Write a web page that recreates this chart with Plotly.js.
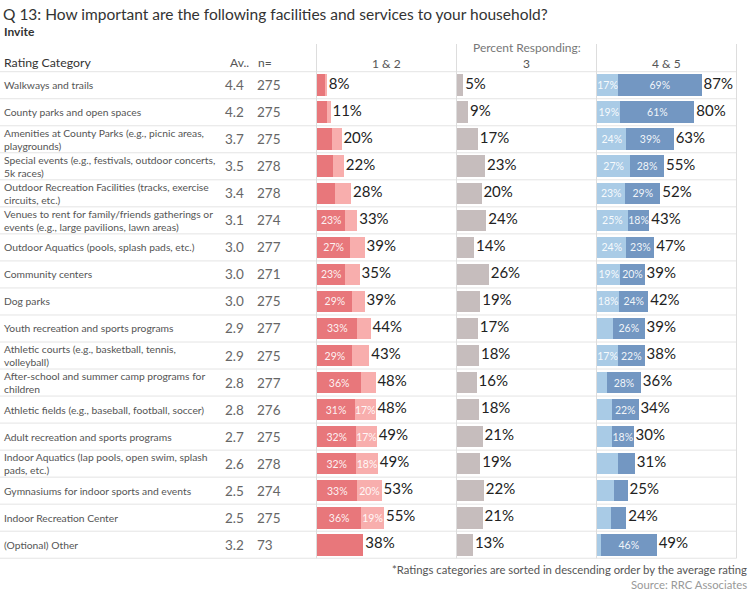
<!DOCTYPE html>
<html>
<head>
<meta charset="utf-8">
<script src="https://cdn.plot.ly/plotly-3.0.1.min.js"></script>
<style>html,body{margin:0;padding:0;background:#fff;}#chart{width:751px;height:592px;}</style>
</head>
<body>
<div id="chart"></div>
<script>
// ---------- DATA ----------
const categories = [
  "Walkways and trails",
  "County parks and open spaces",
  "Amenities at County Parks (e.g., picnic areas, playgrounds)",
  "Special events (e.g., festivals, outdoor concerts, 5k races)",
  "Outdoor Recreation Facilities (tracks, exercise circuits, etc.)",
  "Venues to rent for family/friends gatherings or events (e.g., large pavilions, lawn areas)",
  "Outdoor Aquatics (pools, splash pads, etc.)",
  "Community centers",
  "Dog parks",
  "Youth recreation and sports programs",
  "Athletic courts (e.g., basketball, tennis, volleyball)",
  "After-school and summer camp programs for children",
  "Athletic fields (e.g., baseball, football, soccer)",
  "Adult recreation and sports programs",
  "Indoor Aquatics (lap pools, open swim, splash pads, etc.)",
  "Gymnasiums for indoor sports and events",
  "Indoor Recreation Center",
  "(Optional) Other"
];
const categoryLabels = [
  "Walkways and trails",
  "County parks and open spaces",
  "Amenities at County Parks (e.g., picnic areas,<br>playgrounds)",
  "Special events (e.g., festivals, outdoor concerts,<br>5k races)",
  "Outdoor Recreation Facilities (tracks, exercise<br>circuits, etc.)",
  "Venues to rent for family/friends gatherings or<br>events (e.g., large pavilions, lawn areas)",
  "Outdoor Aquatics (pools, splash pads, etc.)",
  "Community centers",
  "Dog parks",
  "Youth recreation and sports programs",
  "Athletic courts (e.g., basketball, tennis,<br>volleyball)",
  "After-school and summer camp programs for<br>children",
  "Athletic fields (e.g., baseball, football, soccer)",
  "Adult recreation and sports programs",
  "Indoor Aquatics (lap pools, open swim, splash<br>pads, etc.)",
  "Gymnasiums for indoor sports and events",
  "Indoor Recreation Center",
  "(Optional) Other"
];
const averages = ["4.4","4.2","3.7","3.5","3.4","3.1","3.0","3.0","3.0","2.9","2.9","2.8","2.8","2.7","2.6","2.5","2.5","3.2"];
const counts   = [275,275,275,278,278,274,277,271,275,277,275,277,276,275,278,274,275,73];

// Panel "1 & 2": rating 1 (dark) and rating 2 (light) percentages
const rating1 = [6, 8, 12, 13, 15, 23, 27, 23, 29, 33, 29, 36, 31, 32, 32, 33, 36, 38];
const rating2 = [2, 3, 8, 9, 13, 10, 12, 12, 10, 11, 14, 12, 17, 17, 18, 20, 19, 0];
const total12 = [8, 11, 20, 22, 28, 33, 39, 35, 39, 44, 43, 48, 48, 49, 49, 53, 55, 38];
const show1   = [0,0,0,0,0,1,1,1,1,1,1,1,1,1,1,1,1,0];
const show2   = [0,0,0,0,0,0,0,0,0,0,0,0,1,1,1,1,1,0];

// Panel "3"
const rating3 = [5, 9, 17, 23, 20, 24, 14, 26, 19, 17, 18, 16, 18, 21, 19, 22, 21, 13];

// Panel "4 & 5": rating 4 (light) and rating 5 (dark)
const rating4 = [17, 19, 24, 27, 23, 25, 24, 19, 18, 13, 17, 8, 12, 12, 17, 14, 11, 3];
const rating5 = [69, 61, 39, 28, 29, 18, 23, 20, 24, 26, 22, 28, 22, 18, 14, 11, 13, 46];
const total45 = [87, 80, 63, 55, 52, 43, 47, 39, 42, 39, 38, 36, 34, 30, 31, 25, 24, 49];
const show4   = [1,1,1,1,1,1,1,1,1,0,1,0,0,0,0,0,0,0];
const show5   = [1,1,1,1,1,1,1,1,1,1,1,1,1,1,0,0,0,1];

// ---------- STYLE / GEOMETRY ----------
const W = 751, H = 592;
const px = v => v / W;
const py = v => 1 - v / H;
const rowTop = 71.7, rowH = 27.03, nRows = categories.length;
const gridBottom = rowTop + rowH * nRows;
const FONT = "Lato, 'Liberation Sans', sans-serif";
const FONT_NUM = "Lato, 'Open Sans', sans-serif";
const panelEdges = [316.5, 456.5, 596.5, 736.5];
const xRange = [-0.6, 114.6];

const C = {red: "#E8777B", pink: "#F8AEAD", gray: "#C6BDBD", lblue: "#A9CBE6", dblue: "#7397C2"};

function lbl(vals, show) { return vals.map((v, i) => show[i] ? v + "%" : ""); }
function pct(vals) { return vals.map(v => "\u2009" + v + "%"); }
function sum(a, b) { return a.map((v, i) => v + (b ? b[i] : 0)); }

function barTrace(xs, axis, color, text) {
  return {
    type: "bar", orientation: "h", x: xs, y: categories, xaxis: axis, yaxis: "y",
    marker: {color: color, line: {width: 0}}, width: 0.8,
    text: text || null, textposition: text ? "inside" : "none",
    insidetextanchor: "middle", textangle: 0, constraintext: "none",
    insidetextfont: {family: FONT_NUM, size: 10.5, color: "rgba(255,255,255,0.92)"},
    hoverinfo: "skip", showlegend: false, cliponaxis: false
  };
}
function totalTrace(xs, axis, labels) {
  return {
    type: "scatter", mode: "text", x: xs, y: categories, xaxis: axis, yaxis: "y",
    text: labels, textposition: "middle right",
    textfont: {family: FONT_NUM, size: 15, color: "#222"},
    hoverinfo: "skip", showlegend: false, cliponaxis: false
  };
}

const traces = [
  barTrace(rating1, "x", C.red, lbl(rating1, show1)),
  barTrace(rating2, "x", C.pink, lbl(rating2, show2)),
  totalTrace(sum(rating1, rating2), "x", pct(total12)),
  barTrace(rating3, "x2", C.gray, null),
  totalTrace(rating3, "x2", pct(rating3)),
  barTrace(rating4, "x3", C.lblue, lbl(rating4, show4)),
  barTrace(rating5, "x3", C.dblue, lbl(rating5, show5)),
  totalTrace(sum(rating4, rating5), "x3", pct(total45))
];

const hidden = {showgrid: false, zeroline: false, showticklabels: false, showline: false, ticks: "", fixedrange: true};
const layout = {
  width: W, height: H, margin: {l: 0, r: 0, t: 0, b: 0},
  paper_bgcolor: "#fff", plot_bgcolor: "rgba(0,0,0,0)",
  barmode: "stack", bargap: 0.2, showlegend: false,
  font: {family: FONT, color: "#555"},
  xaxis:  Object.assign({domain: [px(panelEdges[0]), px(panelEdges[1])], range: xRange, anchor: "y"}, hidden),
  xaxis2: Object.assign({domain: [px(panelEdges[1]), px(panelEdges[2])], range: xRange, anchor: "y"}, hidden),
  xaxis3: Object.assign({domain: [px(panelEdges[2]), px(panelEdges[3])], range: xRange, anchor: "y"}, hidden),
  yaxis: Object.assign({domain: [py(gridBottom), py(rowTop)], type: "category",
    categoryorder: "array", categoryarray: categories, range: [nRows - 0.5, -0.5]}, hidden),
  shapes: [], annotations: []
};

// row separators
for (let k = 0; k <= nRows; k++) {
  const yy = py(rowTop + rowH * k);
  layout.shapes.push({type: "line", xref: "paper", yref: "paper", x0: 0, x1: px(panelEdges[3]),
    y0: yy, y1: yy, line: {color: "#E4E4E4", width: 1}, layer: "below"});
}
// panel verticals
panelEdges.forEach(e => layout.shapes.push({type: "line", xref: "paper", yref: "paper",
  x0: px(e), x1: px(e), y0: py(44), y1: py(gridBottom), line: {color: "#DDDDDD", width: 1}, layer: "below"}));

const A = layout.annotations;
function txt(text, x, y, size, color, anchor, extra) {
  A.push(Object.assign({text: text, xref: "paper", yref: "paper", x: px(x), y: py(y),
    xanchor: anchor || "left", yanchor: "middle", showarrow: false,
    font: {family: FONT, size: size, color: color}}, extra || {}));
}
// titles
txt("Q 13: How important are the following facilities and services to your household?", 1, 14, 15.5, "#333");
txt("<b>Invite</b>", 2, 31, 12, "#333");
// header
txt("Rating Category", 2, 63, 12.3, "#333");
txt("Av..", 228, 63, 12, "#555");
txt("n=", 256, 63, 12, "#555");
txt("Percent Responding:", 527, 47.5, 12, "#777", "center");
txt("1 & 2", 386.5, 63.5, 12, "#555", "center");
txt("3", 526.5, 63.5, 12, "#555", "center");
txt("4 & 5", 666.5, 63.5, 12, "#555", "center");
// footer
txt("*Ratings categories are sorted in descending order by the average rating", 749, 569, 11.3, "#555", "right");
txt("Source: RRC Associates", 749, 584, 11.3, "#999", "right");

// row labels, averages, counts
categories.forEach((c, i) => {
  A.push({text: categoryLabels[i], xref: "paper", yref: "y", x: px(2), y: c, xanchor: "left", yanchor: "middle",
    align: "left", showarrow: false, font: {family: FONT, size: 10.3, color: "#555"}});
  A.push({text: averages[i], xref: "paper", yref: "y", x: px(246), y: c, xanchor: "right", yanchor: "middle",
    showarrow: false, font: {family: FONT_NUM, size: 13.5, color: "#666"}});
  A.push({text: String(counts[i]), xref: "paper", yref: "y", x: px(255), y: c, xanchor: "left", yanchor: "middle",
    showarrow: false, font: {family: FONT_NUM, size: 13.5, color: "#666"}});
});

Plotly.newPlot("chart", traces, layout, {staticPlot: true, displayModeBar: false});
</script>
</body>
</html>
